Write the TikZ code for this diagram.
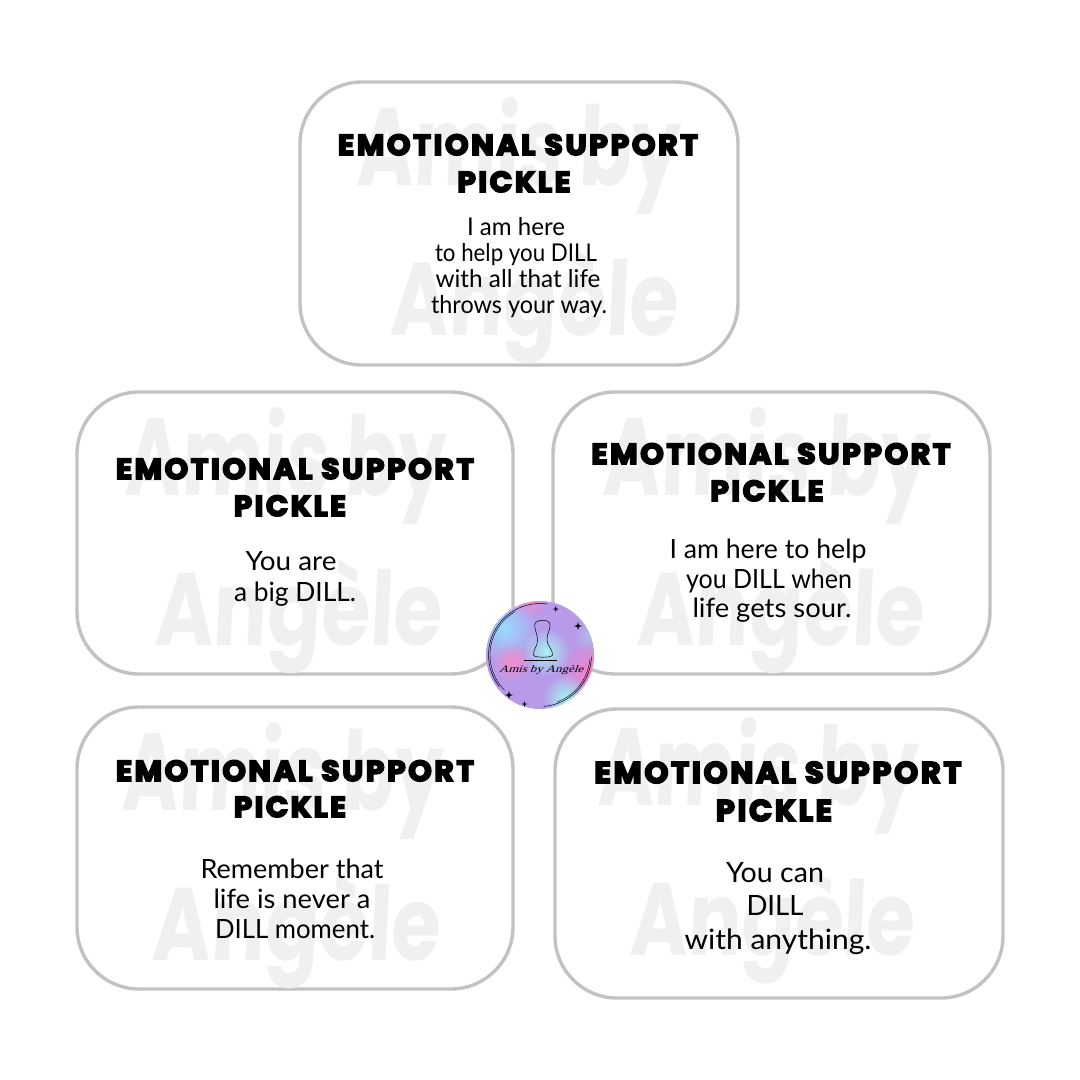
\documentclass[tikz,border=0pt]{standalone}
\usepackage{fontspec}
\usepackage{graphicx}
\usetikzlibrary{fadings,shapes.geometric}
\setmainfont{Lato}
\newfontfamily\titlefont[BoldFeatures={FakeBold=6},LetterSpace=9]{Poppins}
\newfontfamily\wmfont[BoldFeatures={FakeSlant=0.06}]{Poppins}
\newfontfamily\logofont[FakeSlant=0.3]{Liberation Serif}
\definecolor{edgegrey}{HTML}{C2C2C2}
\definecolor{wmgrey}{HTML}{F0F0F0}
\definecolor{lavbase}{HTML}{B79BEA}
\newsavebox{\fitbox}
\newcommand{\fitx}[2]{\sbox{\fitbox}{#2}\pgfmathsetmacro{\fitratio}{#1/\wd\fitbox}\scalebox{\fitratio}[1]{\usebox{\fitbox}}}
\newcommand{\bodysize}{24}
\tikzset{
  x=1pt,y=-1pt,
  card/.style={draw=edgegrey,line width=3.4pt,fill=white,rounded corners=62pt},
  wm/.style={inner sep=0pt,outer sep=0pt,text=wmgrey,anchor=base},
  ttl/.style={inner sep=0pt,outer sep=0pt,text=black,anchor=base},
  bodyt/.style={inner sep=0pt,outer sep=0pt,text=black,anchor=base},
  blob/.style={path fading=fuzzy},
  sparkle/.style={star,star points=4,star point ratio=3.2,fill=black,inner sep=0pt},
}
\tikzfading[name=fuzzy,inner color=transparent!0,outer color=transparent!100]
\newcommand{\titlelines}[7]{%
  \node[ttl] at (#1,#2+10) {\fitx{#3}{\titlefont\bfseries\fontsize{#7}{#7}\selectfont EMOTIONAL SUPPORT}};
  \node[ttl] at (#4,#5+10) {\fitx{#6}{\titlefont\bfseries\fontsize{#7}{#7}\selectfont PICKLE}};}
\newcommand{\watermark}[6]{%
  \node[wm] at (#1,#2) {\resizebox{#3pt}{88pt}{\wmfont\bfseries\fontsize{100}{110}\selectfont Amis by}};
  \node[wm] at (#4,#5) {\resizebox{#6pt}{86pt}{\wmfont\bfseries\fontsize{100}{110}\selectfont Angèle}};}
\newcommand{\bl}[4]{\node[bodyt] at (#1,#2+9) {\fitx{#3}{\fontsize{\bodysize}{\bodysize}\selectfont #4}};}
\begin{document}
\begin{tikzpicture}
\useasboundingbox (0,0) rectangle (1080,1080);
\fill[white] (0,0) rectangle (1080,1080);
% top card
\draw[card] (300,82) rectangle (738,365);
\watermark{518}{185}{323}{534}{335}{288}
\titlelines{518}{145}{360}{514}{182}{113}{29}
\renewcommand{\bodysize}{24.5}
\bl{516}{226}{98}{I am here}
\bl{516}{252}{162}{to help you DILL}
\bl{518}{278}{165}{with all that life}
\bl{519}{304}{176}{throws your way.}
% left card
\renewcommand{\bodysize}{26.5}
\draw[card] (77,392) rectangle (513,674);
\watermark{285}{495}{320}{298}{645}{287}
\titlelines{295}{469}{358}{290}{506}{112}{29}
\bl{291}{561}{91}{You are}
\bl{295}{592}{122}{a big DILL.}
% right card
\draw[card] (553,392) rectangle (990,674);
\watermark{766}{495}{327}{780}{645}{287}
\titlelines{771}{454}{359}{767}{491}{113}{29}
\bl{768}{549}{197}{I am here to help}
\bl{769}{579}{166}{you DILL when}
\bl{772}{608}{159}{life gets sour.}
% bottom-left card
\draw[card] (77,707) rectangle (513,989);
\watermark{282}{810}{320}{296}{960}{288}
\titlelines{295}{771}{358}{290}{807}{112}{29}
\bl{292}{869}{183}{Remember that}
\bl{292}{899}{157}{life is never a}
\bl{295}{929}{160}{DILL moment.}
% bottom-right card
\draw[card] (555,709) rectangle (1003,998);
\watermark{757}{805}{320}{772}{955}{285}
\titlelines{778}{773}{367}{774}{811}{116}{30}
\renewcommand{\bodysize}{28}
\bl{775}{873}{98}{You can}
\bl{775}{906}{57}{DILL}
\bl{778}{940}{187}{with anything.}
% logo
\begin{scope}
\clip (540,655) circle (54);
\fill[lavbase] (486,601) rectangle (594,709);
\fill[blob,color=blue!35!cyan!40!white] (505,628) circle (34);
\fill[blob,color=magenta!50!white] (590,672) circle (32);
\fill[blob,color=magenta!45!white] (512,662) circle (20);
\fill[blob,color=magenta!45!white] (528,596) circle (22);
\fill[blob,color=teal!30!cyan!35!white] (546,652) circle (24);
\fill[blob,color=teal!30!cyan!35!white] (566,698) circle (24);
\fill[blob,color=cyan!35!blue!30!white] (590,636) circle (16);
\fill[blob,color=magenta!40!white] (488,702) circle (14);
\end{scope}
\begin{scope}[shift={(540,655)},black]
\draw[line width=.5pt] (82:51.5pt) arc[start angle=82,end angle=218,radius=51.5pt];
\draw[line width=.4pt] (120:50pt) arc[start angle=120,end angle=225,radius=50pt];
\draw[line width=.5pt] (-2:51.5pt) arc[start angle=-2,end angle=-86,radius=51.5pt];
\draw[line width=.4pt] (-5:50pt) arc[start angle=-5,end angle=-70,radius=50pt];
\end{scope}
\draw[black,line width=.5pt] (537.5,640) .. controls (537,632) and (534,629) .. (535,624) .. controls (536,619) and (549,619) .. (550,624) .. controls (551,629) and (547,632) .. (547,640) .. controls (547,646) and (553,649) .. (552.5,655) .. controls (552,658) and (534,658) .. (533.5,655) .. controls (533,649) and (538,646) .. (537.5,640);
\draw[black,line width=.4pt] (524,660) -- (557,660);
\node[inner sep=0pt] (logotext) at (541,670) {\fitx{84}{\logofont\fontsize{10}{10}\selectfont Amis by Angèle}};
\node[sparkle,minimum size=6pt] (s1) at (555.7,609) {};
\node[sparkle,minimum size=8pt] (s2) at (578,626) {};
\node[sparkle,minimum size=8pt] (s3) at (509,695) {};
\node[sparkle,minimum size=6pt] (s4) at (524.5,704) {};
\end{tikzpicture}
\end{document}
